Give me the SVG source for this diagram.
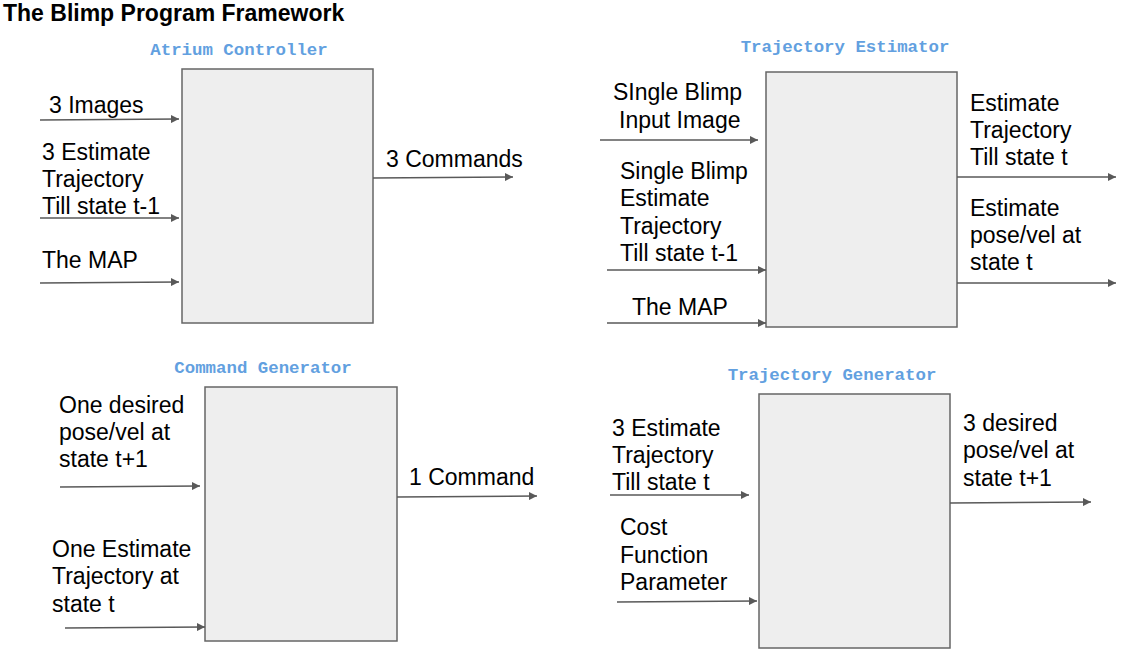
<svg xmlns="http://www.w3.org/2000/svg" width="1133" height="660" viewBox="0 0 1133 660">
<defs>
<marker id="ah" viewBox="0 0 10 10" refX="10" refY="5" markerWidth="8" markerHeight="8" markerUnits="userSpaceOnUse" orient="auto">
<path d="M0,0 L10,5 L0,10 z" fill="#595959"/>
</marker>
<style>
.t{font-family:"Liberation Sans",Arial,sans-serif;font-size:23px;fill:#000}
.ttl{font-family:"Liberation Sans",Arial,sans-serif;font-size:23px;font-weight:bold;fill:#000}
.lbl{font-family:"Liberation Mono","Courier New",monospace;font-size:17.4px;font-weight:bold;fill:#62a0e0;text-anchor:middle}
.box{fill:#eeeeee;stroke:#666666;stroke-width:1.5}
.c line{stroke:#595959;stroke-width:1.5;marker-end:url(#ah)}
</style>
</defs>
<rect width="1133" height="660" fill="#ffffff"/>
<text class="ttl" x="3" y="21">The Blimp Program Framework</text>

<g id="atrium-controller">
<text class="lbl" x="239" y="55">Atrium Controller</text>
<rect class="box" x="182" y="69" width="191" height="254"/>
</g>
<g id="trajectory-estimator">
<text class="lbl" x="845" y="52">Trajectory Estimator</text>
<rect class="box" x="766" y="72" width="191" height="255"/>
</g>
<g id="command-generator">
<text class="lbl" x="263" y="373">Command Generator</text>
<rect class="box" x="205" y="387" width="192" height="254"/>
</g>
<g id="trajectory-generator">
<text class="lbl" x="832" y="380">Trajectory Generator</text>
<rect class="box" x="759" y="394" width="191" height="254"/>
</g>

<g id="labels">
<text class="t" x="49" y="113">3 Images</text>
<text class="t" x="42" y="160">3 Estimate</text>
<text class="t" x="42" y="187">Trajectory</text>
<text class="t" x="42" y="214">Till state t-1</text>
<text class="t" x="42" y="268">The MAP</text>
<text class="t" x="386" y="167">3 Commands</text>

<text class="t" x="613" y="100">SIngle Blimp</text>
<text class="t" x="619" y="128">Input Image</text>
<text class="t" x="620" y="179">Single Blimp</text>
<text class="t" x="620" y="206">Estimate</text>
<text class="t" x="620" y="234">Trajectory</text>
<text class="t" x="620" y="261">Till state t-1</text>
<text class="t" x="632" y="315">The MAP</text>
<text class="t" x="970" y="111">Estimate</text>
<text class="t" x="970" y="138">Trajectory</text>
<text class="t" x="970" y="165">Till state t</text>
<text class="t" x="970" y="216">Estimate</text>
<text class="t" x="970" y="243">pose/vel at</text>
<text class="t" x="970" y="270">state t</text>

<text class="t" x="59" y="413">One desired</text>
<text class="t" x="59" y="440">pose/vel at</text>
<text class="t" x="59" y="467">state t+1</text>
<text class="t" x="52" y="557">One Estimate</text>
<text class="t" x="52" y="584">Trajectory at</text>
<text class="t" x="52" y="612">state t</text>
<text class="t" x="409" y="485">1 Command</text>

<text class="t" x="612" y="436">3 Estimate</text>
<text class="t" x="612" y="463">Trajectory</text>
<text class="t" x="612" y="490">Till state t</text>
<text class="t" x="620" y="535">Cost</text>
<text class="t" x="620" y="563">Function</text>
<text class="t" x="620" y="590">Parameter</text>
<text class="t" x="963" y="431">3 desired</text>
<text class="t" x="963" y="458">pose/vel at</text>
<text class="t" x="963" y="486">state t+1</text>
</g>

<g id="connectors" class="c">
<line x1="40" y1="120" x2="179" y2="119"/>
<line x1="40" y1="218" x2="179" y2="218"/>
<line x1="40" y1="283" x2="179" y2="282"/>
<line x1="373" y1="178" x2="513" y2="177"/>

<line x1="600" y1="140" x2="758" y2="140"/>
<line x1="607" y1="270" x2="766" y2="270"/>
<line x1="607" y1="323" x2="766" y2="323"/>
<line x1="957" y1="177" x2="1116" y2="177"/>
<line x1="957" y1="283" x2="1116" y2="283"/>

<line x1="60" y1="487" x2="200" y2="486"/>
<line x1="65" y1="628" x2="205" y2="627"/>
<line x1="397" y1="497" x2="537" y2="496"/>

<line x1="610" y1="495" x2="749" y2="495"/>
<line x1="617" y1="602" x2="757" y2="601"/>
<line x1="950" y1="503" x2="1091" y2="502"/>
</g>
</svg>
